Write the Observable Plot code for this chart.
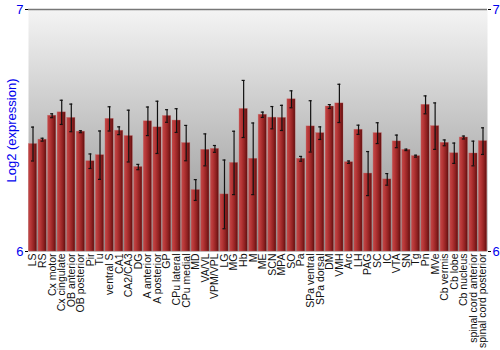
<!DOCTYPE html>
<html>
<head>
<meta charset="utf-8">
<script src="https://cdn.jsdelivr.net/npm/d3@7"></script>
<script src="https://cdn.jsdelivr.net/npm/@observablehq/plot@0.6"></script>
<style>
  html, body { margin: 0; padding: 0; background: #fff; }
  #chart { width: 500px; height: 350px; }
</style>
</head>
<body>
<div id="chart"></div>
<script>
const regions = ["LS","RS","Cx motor","Cx cingulate","OB anterior","OB posterior","Pir","Tu","ventral S","CA1","CA2/CA3","DG","A anterior","A posterior","GP","CPu lateral","CPu medial","MD","VA/VL","VPM/VPL","LG","MG","Hb","M","ME","SCN","MPA","SO","Pa","SPa ventral","SPa dorsal","DM","VMH","Arc","LH","PAG","SC","IC","VTA","SN","Tg","Pn","MVe","Cb vermis","Cb lobe","Cb nucleus","spinal cord anterior","spinal cord posterior"];
const expression = [6.444,6.462,6.561,6.575,6.552,6.495,6.373,6.398,6.548,6.499,6.477,6.349,6.538,6.513,6.560,6.541,6.448,6.254,6.420,6.424,6.236,6.366,6.589,6.383,6.565,6.553,6.552,6.629,6.383,6.517,6.489,6.599,6.612,6.369,6.503,6.322,6.489,6.298,6.455,6.420,6.394,6.606,6.518,6.449,6.406,6.471,6.405,6.456];
const errors = [0.070,0.006,0.008,0.050,0.057,0.004,0.030,0.100,0.050,0.016,0.107,0.011,0.059,0.108,0.026,0.049,0.073,0.043,0.066,0.014,0.142,0.131,0.118,0.148,0.011,0.046,0.052,0.035,0.010,0.106,0.026,0.008,0.079,0.005,0.019,0.091,0.043,0.024,0.026,0.003,0.004,0.037,0.096,0.012,0.042,0.006,0.051,0.055];
const yTicks = [6, 7];

const data = regions.map((name, i) => ({name, value: expression[i], lo: expression[i] - errors[i], hi: expression[i] + errors[i]}));

const blue = "#0000ee";
const chart = Plot.plot({
  width: 500,
  height: 350,
  marginLeft: 28,
  marginRight: 13,
  marginTop: 9,
  marginBottom: 99,
  style: {fontFamily: "'Liberation Sans', Arial, sans-serif", fontSize: "11px", background: "transparent"},
  x: {domain: regions, paddingInner: 0.14, paddingOuter: 0.04, round: false, label: null},
  y: {domain: [6, 7], label: null},
  marks: [
    Plot.frame({fill: "url(#bgGrad)", stroke: null}),
    Plot.barY(data, {x: "name", y1: 6, y2: "value", fill: "url(#barGrad)", stroke: "#c86060", strokeOpacity: 0.5, strokeWidth: 0.6}),
    Plot.ruleX(data, {x: "name", y1: "lo", y2: "hi", stroke: "#111", strokeWidth: 1.2}),
    Plot.tickY(data, {x: "name", y: "lo", stroke: "#111", strokeWidth: 1.2, insetLeft: 2.6, insetRight: 2.6}),
    Plot.tickY(data, {x: "name", y: "hi", stroke: "#111", strokeWidth: 1.2, insetLeft: 2.6, insetRight: 2.6}),
    Plot.ruleX([0], {frameAnchor: "left", stroke: "#777", strokeWidth: 1.5}),
    Plot.ruleX([0], {frameAnchor: "right", stroke: "#777", strokeWidth: 1.5}),
    Plot.ruleY([7], {stroke: "#777", strokeWidth: 1.5}),
    Plot.axisY({anchor: "left", ticks: yTicks, tickFormat: d => String(d), tickSize: 3, tickPadding: 2, stroke: "black", fill: blue, fontSize: 13,
      label: "Log2 (expression)", labelAnchor: "center", labelArrow: "none", labelOffset: 22}),
    Plot.axisY({anchor: "right", ticks: yTicks, tickFormat: d => String(d), tickSize: 3, tickPadding: 2, stroke: "black", fill: blue, fontSize: 13, label: null}),
    Plot.axisX({tickRotate: -90, tickSize: 0, tickPadding: 2, fontSize: 10.5, fill: "#111", label: null})
  ]
});

const svg = d3.select(chart.tagName.toLowerCase() === "svg" ? chart : chart.querySelector("svg"));
const defs = svg.insert("defs", ":first-child");
const bg = defs.append("linearGradient").attr("id", "bgGrad").attr("x1", 0).attr("y1", 0).attr("x2", 0).attr("y2", 1);
bg.append("stop").attr("offset", "0%").attr("stop-color", "#f4f4f4");
bg.append("stop").attr("offset", "100%").attr("stop-color", "#8e8e8e");
const bar = defs.append("linearGradient").attr("id", "barGrad").attr("x1", 0).attr("y1", 0).attr("x2", 1).attr("y2", 0);
bar.append("stop").attr("offset", "0%").attr("stop-color", "#c24848");
bar.append("stop").attr("offset", "30%").attr("stop-color", "#b63636");
bar.append("stop").attr("offset", "70%").attr("stop-color", "#8e2020");
bar.append("stop").attr("offset", "100%").attr("stop-color", "#5e0e0e");

document.getElementById("chart").appendChild(chart);
</script>
</body>
</html>
